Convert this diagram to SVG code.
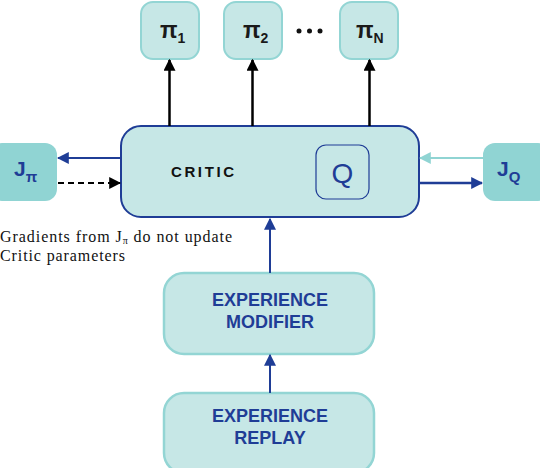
<svg xmlns="http://www.w3.org/2000/svg" width="540" height="468" viewBox="0 0 540 468">
<style>
.pi{fill:#c6e7e6;stroke:#93d5d4;stroke-width:2}
.exp{fill:#c6e7e6;stroke:#93d5d4;stroke-width:2.5}
.j{fill:#90d4d3}
.lbl{font-family:"Liberation Sans",Arial,sans-serif;font-weight:bold;fill:#1f3d96}
.pit{font-family:"Liberation Sans",Arial,sans-serif;font-weight:bold;fill:#1a1a1a}
.cap{font-family:"Liberation Serif","Times New Roman",serif;font-size:16px;fill:#111}
</style>
<defs>
<marker id="ab" viewBox="0 0 10 10" refX="9" refY="5" markerWidth="12" markerHeight="12" markerUnits="userSpaceOnUse" orient="auto"><path d="M0,0 L10,5 L0,10 z" fill="#000"/></marker>
<marker id="ad" viewBox="0 0 10 10" refX="9" refY="5" markerWidth="12" markerHeight="12" markerUnits="userSpaceOnUse" orient="auto"><path d="M0,0 L10,5 L0,10 z" fill="#1f3d96"/></marker>
<marker id="al" viewBox="0 0 10 10" refX="9" refY="5" markerWidth="12" markerHeight="12" markerUnits="userSpaceOnUse" orient="auto"><path d="M0,0 L10,5 L0,10 z" fill="#90d4d3"/></marker>
</defs>
<g id="pi1"><rect class="pi" x="141" y="2" width="58" height="57" rx="12"/><text class="pit" x="160" y="38" font-size="23">π<tspan font-size="14" dy="5">1</tspan></text></g>
<g id="pi2"><rect class="pi" x="224" y="2" width="58" height="57" rx="12"/><text class="pit" x="243" y="38" font-size="23">π<tspan font-size="14" dy="5">2</tspan></text></g>
<g id="dots"><circle cx="299" cy="31" r="2.5" fill="#111"/><circle cx="309.5" cy="31" r="2.5" fill="#111"/><circle cx="320" cy="31" r="2.5" fill="#111"/></g>
<g id="piN"><rect class="pi" x="340" y="2" width="58" height="57" rx="12"/><text class="pit" x="356" y="38" font-size="23">π<tspan font-size="14" dy="5">N</tspan></text></g>
<g id="critic"><rect x="121" y="126" width="298" height="91" rx="20" fill="#c6e7e6" stroke="#1f3d96" stroke-width="2"/>
<text x="171" y="177" font-family="Liberation Sans,Arial,sans-serif" font-weight="bold" font-size="15" letter-spacing="2.6" fill="#111">CRITIC</text>
<rect x="316" y="145" width="53" height="54" rx="10" fill="none" stroke="#1f3d96" stroke-width="1.2"/>
<text x="342.5" y="183" font-family="Liberation Sans,Arial,sans-serif" font-size="28" fill="#1f3d96" text-anchor="middle">Q</text></g>
<g id="jpi"><rect class="j" x="-10" y="143" width="67" height="58" rx="12"/><text class="lbl" x="14" y="176" font-size="21">J<tspan font-size="15" dy="6">π</tspan></text></g>
<g id="jq"><rect class="j" x="483" y="143" width="67" height="58" rx="12"/><text class="lbl" x="497" y="176" font-size="21">J<tspan font-size="15" dy="6">Q</tspan></text></g>
<g id="modifier"><rect class="exp" x="164" y="273" width="210" height="81" rx="20"/><text class="lbl" font-size="18" text-anchor="middle"><tspan x="270" y="306">EXPERIENCE</tspan><tspan x="270" y="328">MODIFIER</tspan></text></g>
<g id="replay"><rect class="exp" x="164" y="393" width="210" height="80" rx="20"/><text class="lbl" font-size="18" text-anchor="middle"><tspan x="270" y="422">EXPERIENCE</tspan><tspan x="270" y="444">REPLAY</tspan></text></g>
<text class="cap" x="0" y="241.5" textLength="232" lengthAdjust="spacing">Gradients from J<tspan font-size="10" dy="2">π</tspan><tspan dy="-2"> do not update</tspan></text>
<text class="cap" x="0" y="260.5" textLength="125" lengthAdjust="spacing">Critic parameters</text>
<g id="connectors" fill="none">
<line x1="169.5" y1="126" x2="169.5" y2="60" stroke="#000" stroke-width="2.5" marker-end="url(#ab)"/>
<line x1="252.5" y1="126" x2="252.5" y2="60" stroke="#000" stroke-width="2.5" marker-end="url(#ab)"/>
<line x1="369.5" y1="126" x2="369.5" y2="60" stroke="#000" stroke-width="2.5" marker-end="url(#ab)"/>
<line x1="121" y1="158" x2="58" y2="158" stroke="#1f3d96" stroke-width="2" marker-end="url(#ad)"/>
<line x1="58" y1="183" x2="120" y2="183" stroke="#000" stroke-width="2" stroke-dasharray="6,4" marker-end="url(#ab)"/>
<line x1="483" y1="158" x2="420" y2="158" stroke="#90d4d3" stroke-width="2" marker-end="url(#al)"/>
<line x1="419" y1="183" x2="482" y2="183" stroke="#1f3d96" stroke-width="2.5" marker-end="url(#ad)"/>
<line x1="270" y1="273" x2="270" y2="219" stroke="#1f3d96" stroke-width="2" marker-end="url(#ad)"/>
<line x1="270" y1="393" x2="270" y2="355" stroke="#1f3d96" stroke-width="2" marker-end="url(#ad)"/>
</g>
</svg>
